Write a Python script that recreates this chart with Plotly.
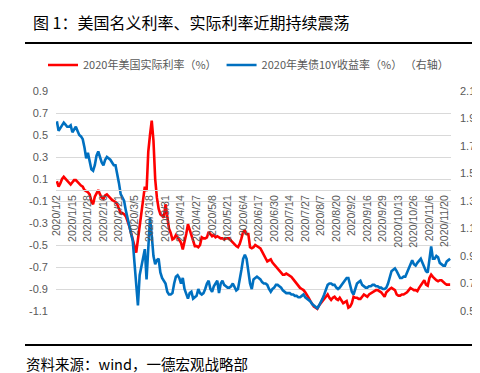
import pandas as pd
import plotly.graph_objects as go

# ---------------- data ----------------
closed_days = ["2020-04-10", "2020-05-25", "2020-07-03", "2020-09-07",
               "2020-10-12", "2020-11-11", "2020-11-26"]
_days = [d for d in pd.bdate_range("2020-01-02", "2020-11-25")
         if d.strftime("%Y-%m-%d") not in closed_days]
dates = [f"{d.year}/{d.month}/{d.day}" for d in _days]

real_rate = [
    0.08, 0.03, 0.06, 0.10, 0.12, 0.10, 0.08, 0.07, 0.05, 0.07,
    0.09, 0.09, 0.07, 0.05, 0.04, 0.03, 0.00, -0.01, -0.02, -0.04,
    -0.10, -0.13, -0.06, -0.03, 0.00, -0.04, -0.07, -0.08, -0.05, -0.04,
    -0.06, -0.08, -0.09, -0.10, -0.11, -0.13, -0.18, -0.21, -0.21, -0.22,
    -0.24, -0.28, -0.33, -0.39, -0.45, -0.53, -0.57, -0.45, -0.33, -0.20,
    -0.09, 0.03, -0.01, 0.35, 0.50, 0.63, 0.45, 0.10, -0.07, -0.17,
    -0.22, -0.24, -0.25, -0.13, -0.26, -0.35, -0.39, -0.45, -0.44, -0.41,
    -0.43, -0.45, -0.48, -0.54, -0.48, -0.40, -0.31, -0.36, -0.42, -0.46,
    -0.51, -0.51, -0.52, -0.50, -0.43, -0.44, -0.44, -0.43, -0.38, -0.40,
    -0.42, -0.41, -0.43, -0.42, -0.43, -0.44, -0.44, -0.45, -0.44, -0.44,
    -0.44, -0.46, -0.48, -0.49, -0.51, -0.52, -0.49, -0.44, -0.38, -0.37,
    -0.40, -0.40, -0.52, -0.53, -0.52, -0.50, -0.51, -0.52, -0.53, -0.56,
    -0.59, -0.62, -0.65, -0.64, -0.63, -0.66, -0.68, -0.70, -0.71, -0.74,
    -0.76, -0.77, -0.77, -0.76, -0.77, -0.78, -0.79, -0.81, -0.83, -0.86,
    -0.87, -0.89, -0.90, -0.91, -0.93, -0.95, -0.98, -1.01, -1.04, -1.06,
    -1.07, -1.08, -1.05, -1.03, -1.00, -0.98, -0.96, -0.95, -0.98, -1.00,
    -0.98, -0.97, -0.99, -1.00, -0.98, -1.00, -1.03, -1.02, -1.01, -1.07,
    -1.06, -1.03, -0.97, -0.98, -0.98, -0.99, -0.99, -0.97, -0.95, -0.96,
    -0.97, -0.95, -0.94, -0.93, -0.92, -0.91, -0.91, -0.92, -0.93, -0.95,
    -0.97, -0.93, -0.91, -0.90, -0.89, -0.90, -0.91, -0.95, -0.96, -0.96,
    -0.95, -0.95, -0.94, -0.93, -0.91, -0.89, -0.90, -0.91, -0.91, -0.92,
    -0.89, -0.87, -0.84, -0.82, -0.86, -0.87, -0.80, -0.77, -0.79, -0.81,
    -0.82, -0.83, -0.82, -0.82, -0.84, -0.85, -0.86, -0.86, -0.86,
]

yield_10y = [
    1.88, 1.81, 1.83, 1.85, 1.87, 1.855, 1.84, 1.84, 1.85, 1.80,
    1.82, 1.84, 1.81, 1.78, 1.77, 1.75, 1.69, 1.61, 1.65, 1.58,
    1.53, 1.52, 1.56, 1.63, 1.66, 1.62, 1.58, 1.56, 1.60, 1.62,
    1.61, 1.60, 1.58, 1.56, 1.56, 1.50, 1.43, 1.35, 1.33, 1.30,
    1.23, 1.17, 1.13, 1.05, 1.01, 0.85, 0.69, 0.54, 0.76, 0.83,
    0.87, 0.95, 0.73, 1.00, 1.18, 1.05, 0.90, 0.84, 0.87, 0.88,
    0.78, 0.74, 0.72, 0.70, 0.64, 0.62, 0.62, 0.63, 0.70, 0.75,
    0.76, 0.74, 0.70, 0.74, 0.66, 0.62, 0.59, 0.63, 0.64, 0.59,
    0.60, 0.61, 0.66, 0.63, 0.62, 0.63, 0.66, 0.70, 0.72, 0.66,
    0.64, 0.68, 0.70, 0.72, 0.63, 0.70, 0.72, 0.69, 0.68, 0.67,
    0.67, 0.68, 0.70, 0.68, 0.65, 0.66, 0.72, 0.80, 0.88, 0.91,
    0.88, 0.80, 0.70, 0.66, 0.73, 0.74, 0.75, 0.74, 0.73, 0.71,
    0.70, 0.70, 0.69, 0.66, 0.64, 0.66, 0.67, 0.69, 0.69, 0.68,
    0.67, 0.65, 0.64, 0.63, 0.63, 0.63, 0.62, 0.62, 0.61, 0.61,
    0.60, 0.60, 0.61, 0.62, 0.60, 0.59, 0.58, 0.57, 0.55, 0.54,
    0.53, 0.52, 0.54, 0.56, 0.59, 0.62, 0.66, 0.69, 0.70, 0.70,
    0.69, 0.69, 0.67, 0.66, 0.67, 0.69, 0.71, 0.73, 0.74, 0.74,
    0.69, 0.64, 0.62, 0.67, 0.70, 0.71, 0.72, 0.69, 0.68, 0.67,
    0.67, 0.68, 0.68, 0.69, 0.69, 0.68, 0.68, 0.67, 0.67, 0.66,
    0.66, 0.67, 0.70, 0.75, 0.79, 0.80, 0.81, 0.79, 0.76, 0.74,
    0.74, 0.75, 0.75, 0.78, 0.80, 0.84, 0.87, 0.84, 0.83, 0.85,
    0.87, 0.88, 0.85, 0.82, 0.79, 0.78, 0.90, 0.97, 0.88, 0.88,
    0.90, 0.89, 0.85, 0.84, 0.83, 0.83, 0.86, 0.87, 0.88,
]

left_ticks = [-1.1, -0.9, -0.7, -0.5, -0.3, -0.1, 0.1, 0.3, 0.5, 0.7, 0.9]
right_ticks = [0.5, 0.7, 0.9, 1.1, 1.3, 1.5, 1.7, 1.9, 2.1]
x_tick_labels = dates[::9]

name_real = "2020年美国实际利率（%）"
name_yield = "2020年美债10Y收益率（%）\u00a0（右轴）"

# ---------------- figure ----------------
W, H = 480, 373
L, R, T, B = 48, 37, 83, 70
pw, ph = W - L - R, H - T - B

def px_x(x):
    return (x - L) / pw

def px_y(y):
    return (H - B - y) / ph

fig = go.Figure()
fig.add_trace(go.Scatter(x=dates, y=real_rate, name=name_real, mode="lines",
                         line=dict(color="#FF0000", width=2.6), yaxis="y"))
fig.add_trace(go.Scatter(x=dates, y=yield_10y, name=name_yield, mode="lines",
                         line=dict(color="#0070C0", width=2.6), yaxis="y2"))

tick_font = dict(family="Liberation Sans, Arial, sans-serif", size=11, color="#595959")

fig.update_layout(
    width=W, height=H,
    margin=dict(l=L, r=R, t=T, b=B),
    paper_bgcolor="white", plot_bgcolor="white",
    font=dict(family="Noto Sans CJK SC, sans-serif", color="#595959"),
    showlegend=True,
    legend=dict(orientation="h", x=px_x(35), xanchor="left", y=px_y(57), yanchor="middle",
                font=dict(family="Noto Sans CJK SC, sans-serif", size=11, color="#595959"),
                bgcolor="rgba(0,0,0,0)", itemwidth=30, tracegroupgap=0),
    title=dict(text="图 1：美国名义利率、实际利率近期持续震荡",
               x=25 / W, xanchor="left", xref="container",
               y=1 - 15 / H, yanchor="middle", yref="container",
               font=dict(family="Noto Sans CJK SC, sans-serif", size=16, color="#000000")),
    xaxis=dict(type="category", range=[-0.5, len(dates) - 0.5],
               tickmode="array", tickvals=x_tick_labels, ticktext=x_tick_labels,
               tickangle=-90, tickfont=dict(family="Liberation Sans, Arial, sans-serif", size=10.5, color="#595959"),
               showgrid=False, zeroline=False, showline=True, linecolor="#D9D9D9", linewidth=1,
               ticks="", anchor="free", position=0.55),
    yaxis=dict(range=[-1.1, 0.9], tickmode="array", tickvals=left_ticks,
               ticktext=[f"{v:.1f}" for v in left_ticks],
               showgrid=True, gridcolor="#D9D9D9", gridwidth=1, zeroline=False,
               showline=False, ticks="", tickfont=tick_font, ticklabelstandoff=7),
    yaxis2=dict(range=[0.5, 2.1], overlaying="y", side="right", tickmode="array",
                tickvals=right_ticks, ticktext=[f"{v:.1f}" for v in right_ticks],
                showgrid=False, zeroline=False, showline=False, ticks="",
                tickfont=tick_font, ticklabelstandoff=8),
    shapes=[
        dict(type="line", xref="paper", yref="paper", x0=px_x(17), x1=px_x(465),
             y0=px_y(35), y1=px_y(35), line=dict(color="#000000", width=2)),
        dict(type="line", xref="paper", yref="paper", x0=px_x(17), x1=px_x(465),
             y0=px_y(337), y1=px_y(337), line=dict(color="#000000", width=2)),
    ],
    annotations=[
        dict(text="资料来源：wind，一德宏观战略部", xref="paper", yref="paper",
             x=px_x(16), y=px_y(355), xanchor="left", yanchor="middle", showarrow=False,
             font=dict(family="Noto Sans CJK SC, sans-serif", size=14.5, color="#000000")),
    ],
)

fig.write_html("out.html")
